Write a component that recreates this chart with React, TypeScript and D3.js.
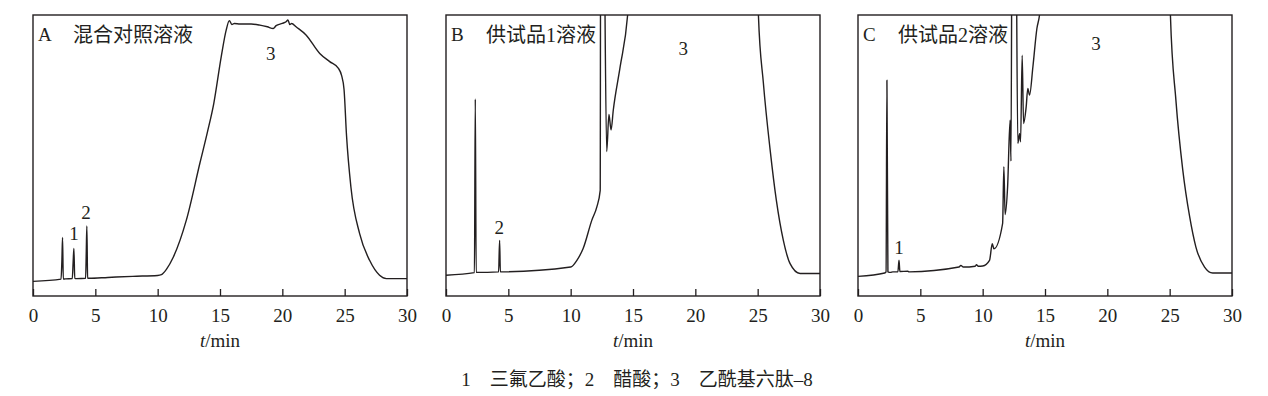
import { useEffect, useRef } from 'react';
import * as d3 from 'd3';

// retention time (min) and detector signal (relative, 0-100 = frame height) per panel
const timeA = [0, 2.25, 2.32, 2.37, 2.43, 2.6, 3.15, 3.22, 3.28, 3.35, 3.5, 4.22, 4.27, 4.32, 4.38, 4.5, 6, 8, 10, 10.3, 10.7, 11.26, 12.3, 13.4, 14.0, 14.5, 15.1, 15.5, 15.75, 15.95, 16.15, 16.6, 17.5, 18.2, 18.8, 19.27, 19.5, 20.0, 20.3, 20.45, 20.6, 20.75, 21.1, 21.9, 23.0, 23.8, 24.5, 24.75, 24.95, 25.15, 25.5, 26.2, 27.0, 27.8, 28.35, 30];
const signalA = [5.2, 6.0, 13, 20.8, 6.0, 6.1, 6.2, 12, 16.9, 6.3, 6.2, 6.3, 15, 24.9, 6.4, 6.3, 6.6, 7.0, 7.3, 7.6, 9.5, 13.9, 27, 47.5, 58.5, 68.5, 85.2, 94.7, 98.0, 96.6, 97.0, 96.8, 96.8, 96.4, 95.8, 95.2, 96.2, 97.0, 97.6, 98.2, 96.6, 97.0, 95.8, 92.9, 86.3, 83.4, 81.0, 78.5, 73.5, 57, 38.8, 22.2, 12.7, 7.4, 6.2, 6.2];

const timeB = [0, 2.28, 2.35, 2.42, 4.22, 4.3, 4.36, 10, 10.5, 11.0, 11.7, 12.1, 12.37, 12.41, 12.62, 12.89, 13.07, 13.24, 13.42, 13.97, 14.57, 15, 25, 25.06, 25.46, 26.0, 26.5, 27.06, 27.6, 28.4, 30];
const signalB = [7.4, 8.3, 70.1, 8.4, 8.6, 19.8, 8.6, 10.3, 12.7, 16.9, 27, 31.7, 37.6, 150, 150, 51.4, 64.6, 59.1, 66.2, 81.6, 100, 130, 130, 100, 75.7, 52, 34, 19.8, 11.5, 8, 8];

const timeC = [0, 2.14, 2.25, 2.32, 2.4, 2.6, 2.8, 3.2, 3.29, 3.36, 4.0, 4.1, 8.1, 8.25, 8.45, 9.4, 9.5, 9.65, 10.0, 10.55, 10.77, 10.9, 11.6, 11.7, 11.8, 12.0, 12.2, 12.27, 12.37, 12.64, 12.82, 12.96, 13.04, 13.17, 13.28, 13.49, 13.62, 13.76, 14.03, 14.35, 14.56, 15, 25, 25.06, 25.5, 26.05, 26.6, 27.1, 27.8, 28.45, 30];
const signalC = [7.0, 8.2, 8.6, 76.8, 8.6, 8.4, 8.6, 8.6, 12.7, 8.7, 8.8, 8.6, 10.3, 10.9, 10.3, 10.6, 11.1, 10.6, 10.7, 12.7, 18.6, 16.8, 25.8, 46, 29, 38.8, 62.6, 48, 150, 150, 54.3, 57.8, 54.9, 85.7, 61.4, 67.3, 73.9, 71.5, 81.6, 95.2, 100, 130, 130, 100, 69.7, 44.9, 28.3, 17.5, 10.3, 8.2, 8.2];

const panelLetters = ['A', 'B', 'C'];
const panelTitles = ['混合对照溶液', '供试品1溶液', '供试品2溶液'];

// peak labels: [time, signal, text]
const peakLabelsA: [number, number, string][] = [[3.29, 22.4, '1'], [4.25, 29.9, '2'], [19.07, 86.5, '3']];
const peakLabelsB: [number, number, string][] = [[4.28, 24.6, '2'], [19.03, 88.3, '3']];
const peakLabelsC: [number, number, string][] = [[3.29, 17.4, '1'], [19.1, 90, '3']];

const xTicks = [0, 5, 10, 15, 20, 25, 30];
const legendText = '1\u2003三氟乙酸；2\u2003醋酸；3\u2003乙酰基六肽–8';

const INK = '#231f20';
const FONT = '"Liberation Serif", "Noto Sans CJK SC", serif';

const App = () => {
  const svgRef = useRef<SVGSVGElement>(null);

  useEffect(() => {
    const svg = d3.select(svgRef.current);
    svg.selectAll('*').remove();

    const top = 15;
    const bottom = 296;
    const lefts = [33, 446, 858];
    const plotW = 374;

    const panels = [
      { t: timeA, s: signalA, labels: peakLabelsA },
      { t: timeB, s: signalB, labels: peakLabelsB },
      { t: timeC, s: signalC, labels: peakLabelsC },
    ];

    const y = d3.scaleLinear().domain([0, 100]).range([bottom, top]);

    panels.forEach((p, i) => {
      const left = lefts[i];
      const x = d3.scaleLinear().domain([0, 30]).range([left, left + plotW]);
      const g = svg.append('g');

      g.append('clipPath')
        .attr('id', `clip${i}`)
        .append('rect')
        .attr('x', left)
        .attr('y', top)
        .attr('width', plotW)
        .attr('height', bottom - top);

      // axis with inward ticks
      const axis = d3.axisBottom(x).tickValues(xTicks).tickSizeInner(-7).tickSizeOuter(0).tickPadding(13);
      const ax = g.append('g').attr('transform', `translate(0,${bottom})`).call(axis);
      ax.select('.domain').remove();
      ax.selectAll('line').attr('stroke', INK).attr('stroke-width', 1.3);
      ax.selectAll('text').attr('font-family', FONT).attr('font-size', 19).attr('fill', INK);

      // trace
      const pts = p.t.map((t, k) => [t, p.s[k]] as [number, number]);
      const line = d3.line<[number, number]>()
        .x(d => x(d[0]))
        .y(d => y(d[1]))
        .curve(d3.curveMonotoneX);
      g.append('path')
        .datum(pts)
        .attr('clip-path', `url(#clip${i})`)
        .attr('fill', 'none')
        .attr('stroke', INK)
        .attr('stroke-width', 1.4)
        .attr('stroke-linejoin', 'round')
        .attr('d', line);

      // frame
      g.append('rect')
        .attr('x', left)
        .attr('y', top)
        .attr('width', plotW)
        .attr('height', bottom - top)
        .attr('fill', 'none')
        .attr('stroke', INK)
        .attr('stroke-width', 1.4);

      // panel title
      g.append('text')
        .attr('x', left + 5)
        .attr('y', 41)
        .attr('font-family', FONT)
        .attr('font-size', 19)
        .attr('fill', INK)
        .text(panelLetters[i]);
      g.append('text')
        .attr('x', left + 40)
        .attr('y', 42)
        .attr('font-family', FONT)
        .attr('font-size', 20)
        .attr('fill', INK)
        .text(panelTitles[i]);

      // peak numbers
      g.selectAll('.peak')
        .data(p.labels)
        .enter().append('text')
        .attr('x', d => x(d[0]))
        .attr('y', d => y(d[1]))
        .attr('dy', '0.35em')
        .attr('text-anchor', 'middle')
        .attr('font-family', FONT)
        .attr('font-size', 19)
        .attr('fill', INK)
        .text(d => d[2]);

      // x axis title
      const xt = g.append('text')
        .attr('x', left + plotW / 2)
        .attr('y', 347)
        .attr('text-anchor', 'middle')
        .attr('font-family', FONT)
        .attr('font-size', 19)
        .attr('fill', INK);
      xt.append('tspan').attr('font-style', 'italic').text('t');
      xt.append('tspan').text('/min');
    });

    svg.append('text')
      .attr('x', 637)
      .attr('y', 386)
      .attr('text-anchor', 'middle')
      .attr('font-family', FONT)
      .attr('font-size', 19)
      .attr('fill', INK)
      .text(legendText);
  }, []);

  return (
    <svg ref={svgRef} width={1268} height={396} style={{ position: 'absolute', left: 0, top: 0, background: '#fff' }} />
  );
};

export default App;
